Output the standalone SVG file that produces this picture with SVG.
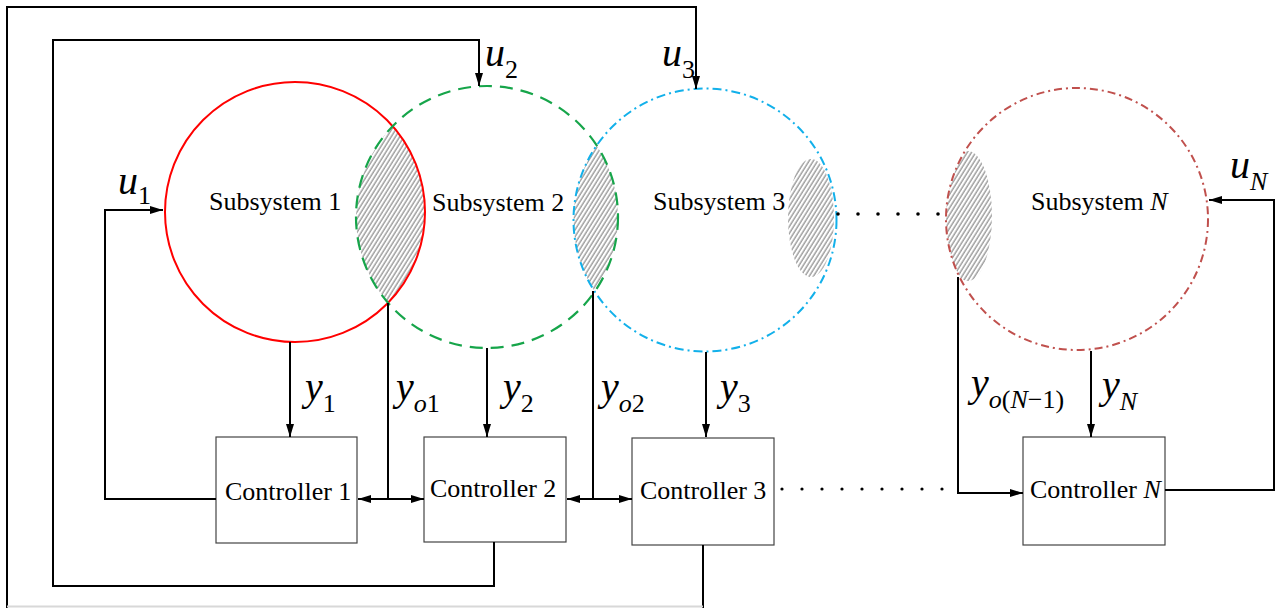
<svg xmlns="http://www.w3.org/2000/svg" width="1284" height="608" viewBox="0 0 1284 608">
<style>
.lbl{font-family:"Liberation Serif","Times New Roman",serif;font-size:26px;fill:#000}
.m{font-family:"Liberation Serif","Times New Roman",serif;font-style:italic;font-size:40px;fill:#000}
.s{font-size:26px;font-style:normal}
.si{font-size:26px;font-style:italic}
.ln{fill:none;stroke:#000;stroke-width:2}
.box{fill:#fff;stroke:#444;stroke-width:1.2}
.dot{fill:#000}
</style>
<defs>
<marker id="ah" markerUnits="userSpaceOnUse" markerWidth="14" markerHeight="10" refX="13" refY="5" orient="auto-start-reverse"><path d="M0,1 L13,5 L0,9 Z" fill="#000"/></marker>
<pattern id="hatch" width="3.6" height="10" patternUnits="userSpaceOnUse" patternTransform="rotate(32)"><rect width="3.6" height="10" fill="#fff"/><line x1="1" y1="0" x2="1" y2="10" stroke="#444" stroke-width="0.8"/></pattern>
<clipPath id="c1"><circle cx="295" cy="212" r="130"/></clipPath>
<clipPath id="c2"><circle cx="487" cy="217" r="131"/></clipPath>
<clipPath id="c3"><circle cx="705" cy="220" r="131.5"/></clipPath>
<clipPath id="cN"><circle cx="1077" cy="219" r="131"/></clipPath>
</defs>
<rect width="1284" height="608" fill="#fff"/>
<g id="hatches">
<circle cx="487" cy="217" r="131" fill="url(#hatch)" clip-path="url(#c1)"/>
<circle cx="705" cy="220" r="131.5" fill="url(#hatch)" clip-path="url(#c2)"/>
<ellipse cx="811" cy="218" rx="23" ry="59" fill="url(#hatch)" clip-path="url(#c3)"/>
<ellipse cx="968" cy="216" rx="24" ry="65" fill="url(#hatch)" clip-path="url(#cN)"/>
</g>
<g id="sub1"><circle cx="295" cy="212" r="130" fill="none" stroke="#ff0000" stroke-width="2"/><text class="lbl" x="209" y="210">Subsystem 1</text></g>
<g id="sub2"><circle cx="487" cy="217" r="131" fill="none" stroke="#16a54a" stroke-width="2.2" stroke-dasharray="13,8"/><text class="lbl" x="432" y="211">Subsystem 2</text></g>
<g id="sub3"><circle cx="705" cy="220" r="131.5" fill="none" stroke="#12b0ea" stroke-width="2" stroke-dasharray="9,4,2,4"/><text class="lbl" x="653" y="210">Subsystem 3</text></g>
<g id="subN"><circle cx="1077" cy="219" r="131" fill="none" stroke="#c0504d" stroke-width="2" stroke-dasharray="8,4,2,4"/><text class="lbl" x="1031" y="210">Subsystem <tspan font-style="italic">N</tspan></text></g>
<g id="ctrl1"><rect class="box" x="216" y="437" width="141" height="106"/><text class="lbl" x="225" y="500">Controller 1</text></g>
<g id="ctrl2"><rect class="box" x="424" y="437" width="142" height="105"/><text class="lbl" x="430" y="497">Controller 2</text></g>
<g id="ctrl3"><rect class="box" x="632" y="438" width="142" height="107"/><text class="lbl" x="640" y="499">Controller 3</text></g>
<g id="ctrlN"><rect class="box" x="1023" y="437" width="142" height="108"/><text class="lbl" x="1030" y="498">Controller <tspan font-style="italic">N</tspan></text></g>
<g id="connectors">
<path class="ln" d="M216,499 H105 V210 H163" marker-end="url(#ah)"/>
<path class="ln" d="M494,542 V586 H53 V40 H479 V86" marker-end="url(#ah)"/>
<path class="ln" d="M703,545 V608"/>
<path class="ln" d="M7,608 V7 H696 V89" marker-end="url(#ah)"/>
<line x1="7" y1="606.5" x2="703" y2="606.5" stroke="#d8d8d8" stroke-width="2"/>
<path class="ln" d="M290,342 V437" marker-end="url(#ah)"/>
<path class="ln" d="M388,303 V499"/>
<path class="ln" d="M358,499 H424" marker-start="url(#ah)" marker-end="url(#ah)"/>
<path class="ln" d="M487,348 V437" marker-end="url(#ah)"/>
<path class="ln" d="M593,291 V499"/>
<path class="ln" d="M567,499 H632" marker-start="url(#ah)" marker-end="url(#ah)"/>
<path class="ln" d="M706,352 V437" marker-end="url(#ah)"/>
<path class="ln" d="M958,277 V493 H1023" marker-end="url(#ah)"/>
<path class="ln" d="M1091,351 V437" marker-end="url(#ah)"/>
<path class="ln" d="M1165,490 H1274 V200 H1209" marker-end="url(#ah)"/>
</g>
<g id="dots">
<circle class="dot" cx="838" cy="214" r="1.8"/><circle class="dot" cx="858" cy="214" r="1.8"/><circle class="dot" cx="878" cy="214" r="1.8"/><circle class="dot" cx="898" cy="214" r="1.8"/><circle class="dot" cx="918" cy="214" r="1.8"/><circle class="dot" cx="938" cy="214" r="1.8"/>
<circle class="dot" cx="782" cy="489" r="1.6"/><circle class="dot" cx="802" cy="489" r="1.6"/><circle class="dot" cx="822" cy="489" r="1.6"/><circle class="dot" cx="842" cy="489" r="1.6"/><circle class="dot" cx="862" cy="489" r="1.6"/><circle class="dot" cx="882" cy="489" r="1.6"/><circle class="dot" cx="902" cy="489" r="1.6"/><circle class="dot" cx="922" cy="489" r="1.6"/><circle class="dot" cx="942" cy="489" r="1.6"/>
</g>
<g id="labels">
<text class="m" x="118" y="194">u<tspan class="s" dy="10">1</tspan></text>
<text class="m" x="485" y="66">u<tspan class="s" dy="12">2</tspan></text>
<text class="m" x="662" y="66">u<tspan class="s" dy="12">3</tspan></text>
<text class="m" x="1230" y="178">u<tspan class="si" dy="12">N</tspan></text>
<text class="m" x="305" y="400">y<tspan class="s" dy="12">1</tspan></text>
<text class="m" x="396" y="400">y<tspan class="si" dy="12">o</tspan><tspan class="s">1</tspan></text>
<text class="m" x="503" y="400">y<tspan class="s" dy="12">2</tspan></text>
<text class="m" x="601" y="400">y<tspan class="si" dy="12">o</tspan><tspan class="s">2</tspan></text>
<text class="m" x="720" y="400">y<tspan class="s" dy="12">3</tspan></text>
<text class="m" x="971" y="396">y<tspan class="si" dy="12">o</tspan><tspan class="s">(</tspan><tspan class="si">N</tspan><tspan class="s">−1)</tspan></text>
<text class="m" x="1102" y="398">y<tspan class="si" dy="12">N</tspan></text>
</g>
</svg>
